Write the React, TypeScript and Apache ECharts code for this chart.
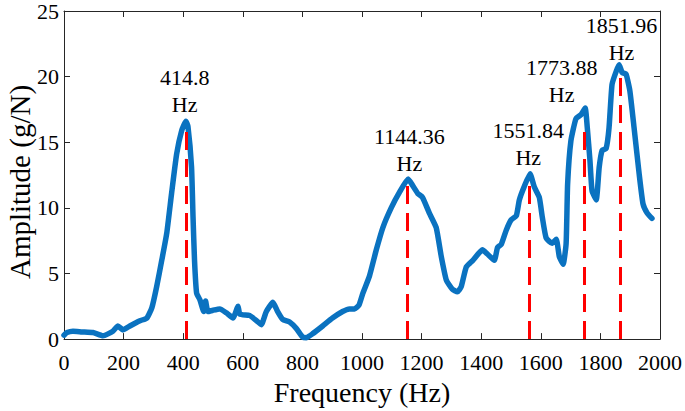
import React, { useEffect, useRef } from "react";
import * as echarts from "echarts";

const freqs = [0, 10, 30, 60, 97, 131, 164, 181, 198, 221, 255, 278, 295, 311, 328, 345, 361, 378, 395, 409, 416, 428, 433, 438, 445, 456, 469, 475, 483, 500, 523, 545, 567, 584, 590, 623, 646, 662, 679, 701, 717, 734, 757, 780, 801, 813, 834, 868, 901, 935, 958, 975, 990, 1003, 1025, 1048, 1070, 1098, 1126, 1155, 1170, 1187, 1203, 1226, 1249, 1266, 1283, 1303, 1320, 1333, 1350, 1372, 1404, 1420, 1444, 1455, 1467, 1484, 1501, 1518, 1528, 1544, 1564, 1578, 1595, 1605, 1618, 1638, 1652, 1662, 1675, 1685, 1690, 1701, 1718, 1735, 1749, 1756, 1765, 1772, 1786, 1796, 1806, 1819, 1829, 1839, 1853, 1863, 1873, 1886, 1899, 1913, 1930, 1943, 1957, 1973];
const amps = [0.3, 0.5, 0.6, 0.55, 0.5, 0.25, 0.6, 1.0, 0.7, 1.0, 1.4, 1.6, 2.4, 4.0, 6.0, 8.1, 11.1, 14.1, 15.9, 16.6, 16.2, 13.1, 9.3, 6.0, 3.5, 3.0, 2.1, 2.9, 2.1, 2.2, 2.3, 2.0, 1.6, 2.5, 1.9, 1.8, 1.4, 1.1, 2.1, 2.8, 2.1, 1.5, 1.3, 0.8, 0.15, 0.1, 0.4, 1.0, 1.6, 2.1, 2.3, 2.3, 2.6, 3.5, 4.8, 6.8, 8.5, 10.0, 11.2, 12.2, 11.7, 11.1, 10.8, 9.6, 8.5, 6.3, 4.5, 3.8, 3.6, 4.0, 5.5, 6.0, 6.8, 6.5, 6.0, 7.0, 7.2, 8.3, 9.1, 9.4, 10.6, 11.6, 12.6, 11.6, 10.8, 9.3, 7.7, 7.3, 7.6, 6.3, 5.7, 7.3, 11.8, 15.1, 16.8, 17.1, 17.6, 16.1, 13.6, 11.3, 10.6, 13.1, 14.4, 14.5, 16.1, 19.4, 20.4, 20.9, 20.3, 20.2, 18.9, 16.1, 12.6, 10.3, 9.6, 9.2];

const dashFreqs = [409, 1152, 1561, 1745, 1868];
const dashTops = [16.2, 11.9, 12.0, 16.4, 20.2];

const labelTexts = ["414.8\nHz", "1144.36\nHz", "1551.84\nHz", "1773.88\nHz", "1851.96\nHz"];
const labelFreqs = [405, 1159, 1558, 1670, 1871];
const labelAmps = [18.9, 14.4, 14.9, 19.7, 22.9];

const xTicks = { min: 0, max: 2000, interval: 200 };
const yTicks = { min: 0, max: 25, interval: 5 };

const FONT = "'Liberation Serif', 'Times New Roman', serif";
const AXIS_COLOR = "#262626";

export default function App() {
  const ref = useRef<HTMLDivElement>(null);
  useEffect(() => {
    if (!ref.current) return;
    document.body.style.margin = "0";
    const chart = echarts.init(ref.current, null, { renderer: "svg" });
    const tickInside = { show: true, inside: true, length: 6, lineStyle: { color: AXIS_COLOR, width: 1 } };
    const axisLine = { show: true, onZero: false, lineStyle: { color: AXIS_COLOR, width: 1 } };
    chart.setOption({
      animation: false,
      textStyle: { fontFamily: FONT },
      grid: { left: 64, top: 9, right: 24, bottom: 71, containLabel: false },
      xAxis: [
        {
          type: "value",
          ...xTicks,
          position: "bottom",
          axisLine,
          axisTick: tickInside,
          splitLine: { show: false },
          axisLabel: { color: "#000", fontSize: 22, fontFamily: FONT, margin: 12, formatter: (v: number) => String(v) },
          name: "Frequency (Hz)",
          nameLocation: "middle",
          nameGap: 31,
          nameTextStyle: { color: "#000", fontSize: 28, fontFamily: FONT },
        },
        {
          type: "value",
          ...xTicks,
          position: "top",
          axisLine,
          axisTick: tickInside,
          splitLine: { show: false },
          axisLabel: { show: false },
        },
      ],
      yAxis: [
        {
          type: "value",
          ...yTicks,
          position: "left",
          axisLine,
          axisTick: tickInside,
          splitLine: { show: false },
          axisLabel: { color: "#000", fontSize: 22, fontFamily: FONT, margin: 5 },
        },
        {
          type: "value",
          ...yTicks,
          position: "right",
          axisLine,
          axisTick: tickInside,
          splitLine: { show: false },
          axisLabel: { show: false },
        },
      ],
      graphic: [
        {
          type: "text",
          x: 20,
          y: 182,
          rotation: Math.PI / 2,
          style: {
            text: "Amplitude (g/N)",
            fontSize: 29,
            fontFamily: FONT,
            fill: "#000",
            align: "center",
            verticalAlign: "middle",
          },
        },
      ],
      series: [
        {
          type: "line",
          data: freqs.map((f, i) => [f, amps[i]]),
          showSymbol: false,
          symbol: "none",
          smooth: 0.15,
          lineStyle: { color: "#0A72C0", width: 5.5, join: "round", cap: "round" },
          z: 2,
        },
        {
          type: "line",
          data: [],
          z: 3,
          markLine: {
            silent: true,
            symbol: "none",
            label: { show: false },
            lineStyle: { color: "#FF0000", width: 3, type: [18, 9] },
            data: dashFreqs.map((f, i) => [{ coord: [f, 0] }, { coord: [f, dashTops[i]] }]),
          },
        },
        {
          type: "scatter",
          symbolSize: 0,
          z: 4,
          itemStyle: { opacity: 1 },
          data: labelFreqs.map((f, i) => ({
            value: [f, labelAmps[i]],
            label: {
              show: true,
              position: "inside",
              formatter: labelTexts[i],
              fontSize: 22,
              lineHeight: 27,
              fontFamily: FONT,
              color: "#000",
              align: "center",
              verticalAlign: "middle",
            },
          })),
        },
      ],
    });
    return () => chart.dispose();
  }, []);
  return <div ref={ref} style={{ width: 685, height: 411 }} />;
}
